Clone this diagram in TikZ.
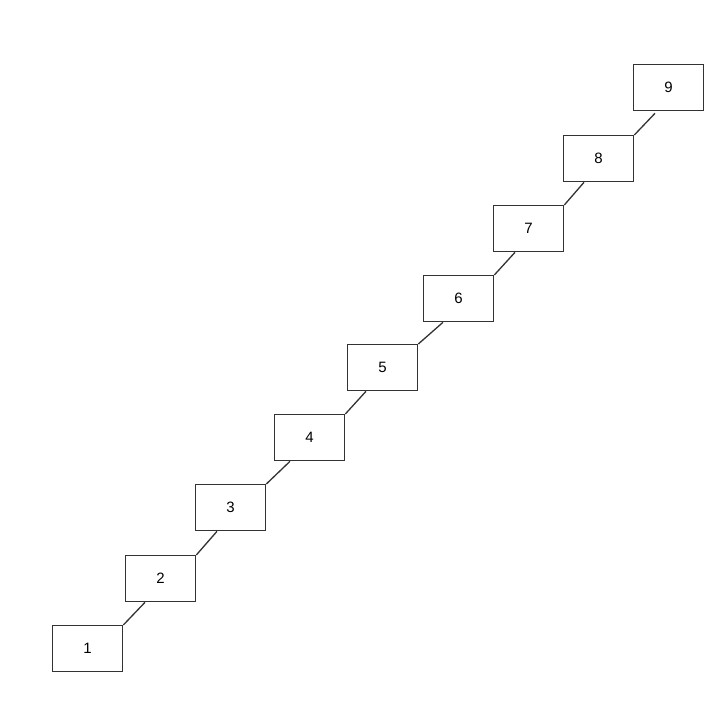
\documentclass[tikz,border=0pt]{standalone}
\usepackage{fontspec}
\setmainfont{Liberation Sans}
\begin{document}
\begin{tikzpicture}[x=1pt,y=-1pt,
  stepbox/.style={draw=black!80, line width=1.3pt, minimum width=70pt, minimum height=46pt, inner sep=0pt, anchor=north west, font=\fontsize{15}{15}\selectfont},
  conn/.style={draw=black!80, line width=1.3pt}]
\useasboundingbox (0,0) rectangle (727,702);
\node[stepbox] (n1) at (52,625) {1};
\node[stepbox] (n2) at (125,555) {2};
\node[stepbox] (n3) at (195,484) {3};
\node[stepbox] (n4) at (274,414) {4};
\node[stepbox] (n5) at (347,344) {5};
\node[stepbox] (n6) at (423,275) {6};
\node[stepbox] (n7) at (493,205) {7};
\node[stepbox] (n8) at (563,135) {8};
\node[stepbox] (n9) at (633,64) {9};
\coordinate (e2) at ([xshift=20pt]n2.south west);
\coordinate (e3) at ([xshift=22pt]n3.south west);
\coordinate (e4) at ([xshift=16pt]n4.south west);
\coordinate (e5) at ([xshift=19pt]n5.south west);
\coordinate (e6) at ([xshift=20pt]n6.south west);
\coordinate (e7) at ([xshift=22pt]n7.south west);
\coordinate (e8) at ([xshift=21pt]n8.south west);
\coordinate (e9) at ([xshift=22pt,yshift=-2pt]n9.south west);
\draw[conn] (n1.north east) -- (e2);
\draw[conn] (n2.north east) -- (e3);
\draw[conn] (n3.north east) -- (e4);
\draw[conn] (n4.north east) -- (e5);
\draw[conn] (n5.north east) -- (e6);
\draw[conn] (n6.north east) -- (e7);
\draw[conn] (n7.north east) -- (e8);
\draw[conn] (n8.north east) -- (e9);
\end{tikzpicture}
\end{document}
